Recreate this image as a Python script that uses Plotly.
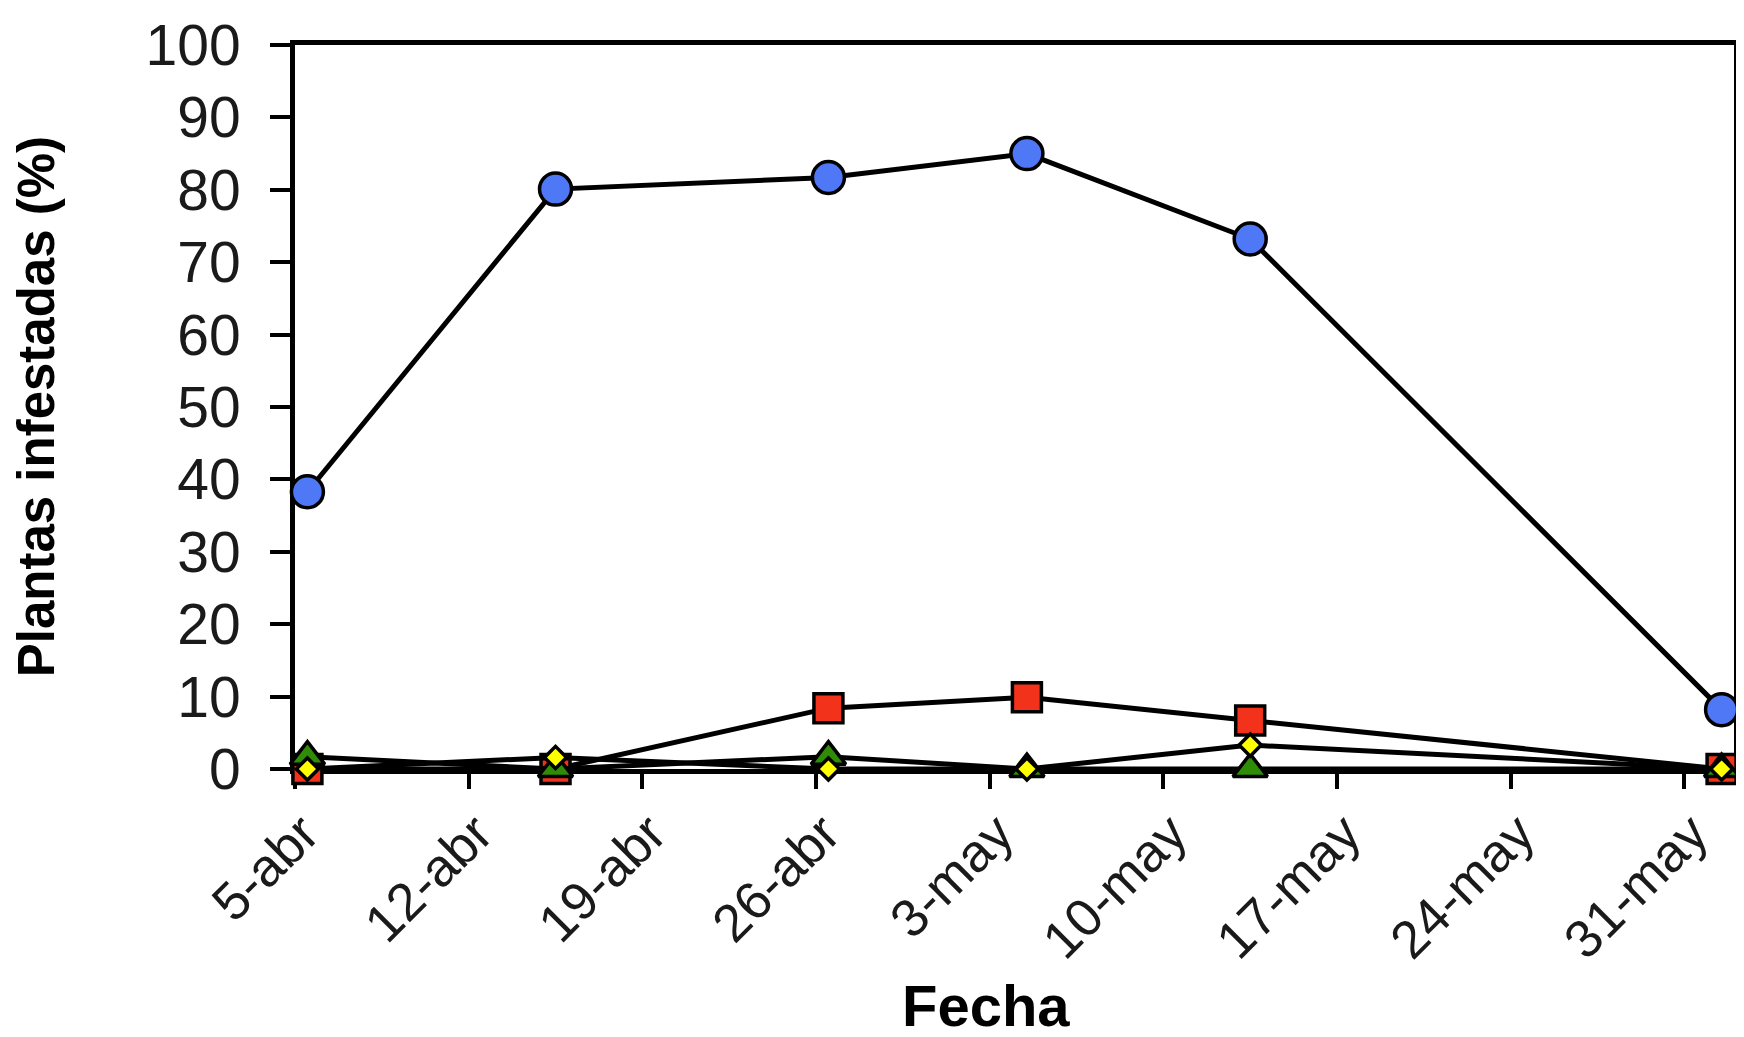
import plotly.graph_objects as go

# Fechas de muestreo (los puntos caen a mitad del día, como en Excel)
fechas = [
    "2007-04-05 12:00", "2007-04-15 12:00", "2007-04-26 12:00",
    "2007-05-04 12:00", "2007-05-13 12:00", "2007-06-01 12:00",
]
serie_azul = [38.3, 80.1, 81.7, 85.0, 73.2, 8.2]
serie_roja = [0.0, 0.0, 8.4, 9.9, 6.7, 0.0]
serie_verde = [1.7, 0.0, 1.7, 0.0, 0.0, 0.0]
serie_amarilla = [0.0, 1.6, 0.0, 0.0, 3.3, 0.0]

tick_fechas = [
    "2007-04-05", "2007-04-12", "2007-04-19", "2007-04-26", "2007-05-03",
    "2007-05-10", "2007-05-17", "2007-05-24", "2007-05-31",
]
tick_textos = [
    "5-abr", "12-abr", "19-abr", "26-abr", "3-may",
    "10-may", "17-may", "24-may", "31-may",
]

FUENTE = "Liberation Sans, Arial, sans-serif"
NEGRO = "#000000"

series = [
    (serie_azul, "circle", 32, "#4f78f6"),
    (serie_roja, "square", 29, "#f2321a"),
    (serie_verde, "triangle-up", 30, "#2f8c06"),
    (serie_amarilla, "diamond", 17, "#ffff00"),
]

fig = go.Figure()
for valores, simbolo, tam, color in series:
    fig.add_trace(go.Scatter(
        x=fechas, y=valores, mode="lines+markers",
        line=dict(color=NEGRO, width=5),
        marker=dict(symbol=simbolo, size=tam, color=color,
                    line=dict(color=NEGRO, width=3.5)),
        cliponaxis=False, showlegend=False,
    ))

# la página añade 8 px de margen al body: la figura se ajusta a eso
fig.update_layout(
    width=1736, height=1029,
    paper_bgcolor="white", plot_bgcolor="white",
    margin=dict(l=287, r=5, t=29, b=268),
    font=dict(family=FUENTE, color="#1a1a1a"),
    xaxis=dict(
        type="date", range=["2007-04-05", "2007-06-02"],
        tickmode="array", tickvals=tick_fechas, ticktext=tick_textos,
        tickangle=-45, tickfont=dict(size=53),
        ticklabelshift=8, ticklabelstandoff=-8,
        ticks="outside", ticklen=15, tickwidth=4, tickcolor=NEGRO,
        showline=True, linewidth=5, linecolor=NEGRO, mirror=True,
        showgrid=False, zeroline=False, layer="below traces",
    ),
    yaxis=dict(
        range=[0, 100], dtick=10, tickfont=dict(size=57),
        ticks="outside", ticklen=20, tickwidth=4, tickcolor=NEGRO,
        ticklabelstandoff=18, ticklabeloverflow="allow",
        showline=True, linewidth=5, linecolor=NEGRO, mirror=True,
        showgrid=False, zeroline=False, layer="below traces",
    ),
    annotations=[
        dict(text="<b>Plantas infestadas (%)</b>", textangle=-90,
             xref="paper", yref="paper", x=-0.18, y=0.501,
             xanchor="center", yanchor="middle", showarrow=False,
             font=dict(size=51, color=NEGRO)),
        dict(text="<b>Fecha</b>",
             xref="paper", yref="paper", x=0.48, y=-0.327,
             xanchor="center", yanchor="middle", showarrow=False,
             font=dict(size=58, color=NEGRO)),
    ],
)

fig.write_html("out.html")
